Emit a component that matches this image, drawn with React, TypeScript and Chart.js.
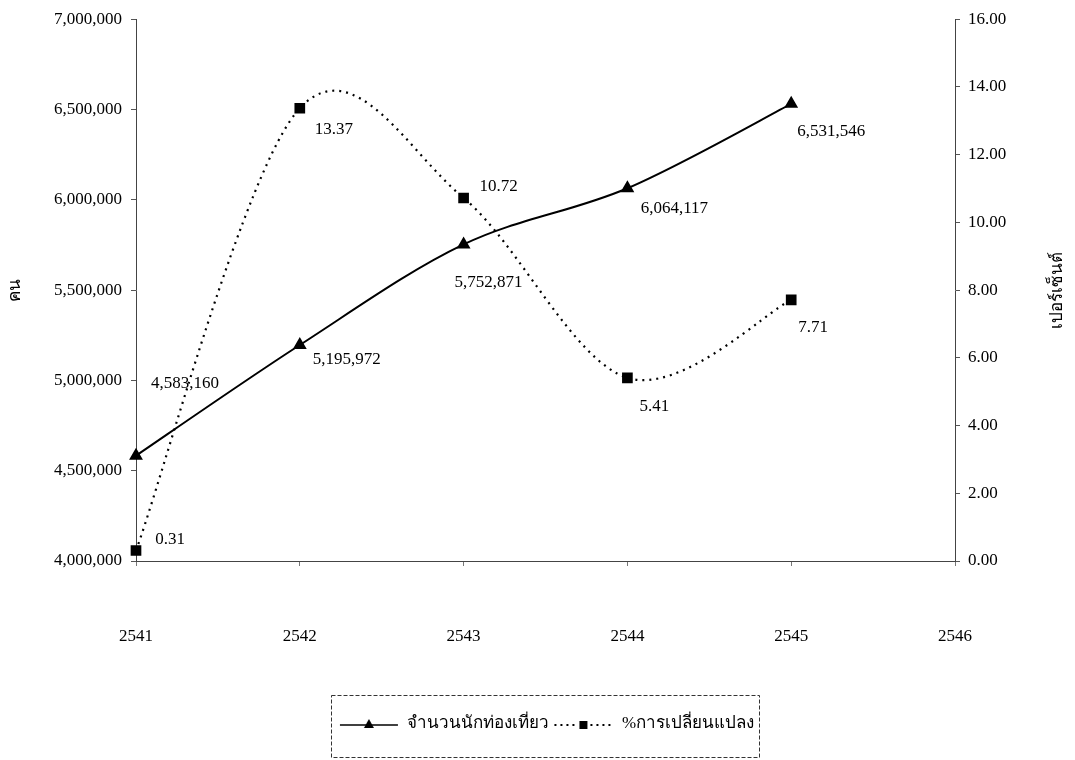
import React, { useEffect, useRef } from 'react';
import { Chart, registerables } from 'chart.js';

Chart.register(...registerables);

// ---- data ----
const years = ['2541', '2542', '2543', '2544', '2545', '2546'];
const tourists = [4583160, 5195972, 5752871, 6064117, 6531546];
const pctChange = [0.31, 13.37, 10.72, 5.41, 7.71];
const seriesNames = ['จำนวนนักท่องเที่ยว', '%การเปลี่ยนแปลง'];
const leftAxisTitle = 'คน';
const rightAxisTitle = 'เปอร์เซ็นต์';
const leftRange = [4000000, 7000000, 500000];
const rightRange = [0, 16, 2];

// label placement (pixel offsets from each point)
const touristLabelOffsets = [[49, -72], [47, 15], [25, 38], [47, 20], [40, 28]];
const pctLabelOffsets = [[34, -11], [34, 21], [35, -11], [27, 29], [22, 28]];

const FONT = "'Liberation Serif', 'Times New Roman', serif";
const FS = 17;
const SMOOTH_K = 1 / 6; // spreadsheet-style smoothing factor
const SAMPLE_W = 60;
const LEGEND_PAD = 4;
const LEGEND_TEXT_Y = 724;
const LEGEND_SHIFT_X = 9;

function makeSample(kind: 'solid' | 'dotted') {
  const c = document.createElement('canvas');
  c.width = SAMPLE_W;
  c.height = 14;
  const g = c.getContext('2d')!;
  g.fillStyle = '#000';
  g.strokeStyle = '#000';
  const mid = SAMPLE_W / 2;
  if (kind === 'solid') {
    g.lineWidth = 1.5;
    g.beginPath();
    g.moveTo(1, 8);
    g.lineTo(SAMPLE_W - 1, 8);
    g.stroke();
    g.beginPath();
    g.moveTo(mid, 2);
    g.lineTo(mid + 5, 11);
    g.lineTo(mid - 5, 11);
    g.closePath();
    g.fill();
  } else {
    for (let x = 1; x < SAMPLE_W; x += 6) {
      if (x > mid - 8 && x < mid + 6) continue;
      g.fillRect(x, 7, 2, 2);
    }
    g.fillRect(mid - 4, 4, 8, 8);
  }
  return c;
}

const fmtInt = (v: number) => Math.round(v).toLocaleString('en-US');

export default function App() {
  const ref = useRef<HTMLCanvasElement | null>(null);

  useEffect(() => {
    if (!ref.current) return;
    const samples = [makeSample('solid'), makeSample('dotted')];

    // Catmull-Rom style control points (like spreadsheet "smoothed line")
    const smoothPlugin = {
      id: 'smooth',
      beforeDatasetsDraw(chart: any) {
        chart.data.datasets.forEach((_d: any, di: number) => {
          const meta = chart.getDatasetMeta(di);
          const pts = meta.data;
          const n = pts.length;
          for (let i = 0; i < n; i++) {
            const p = pts[i];
            const prev = pts[Math.max(0, i - 1)];
            const next = pts[Math.min(n - 1, i + 1)];
            const tx = (next.x - prev.x) * SMOOTH_K;
            const ty = (next.y - prev.y) * SMOOTH_K;
            p.cp1x = p.x - tx;
            p.cp1y = p.y - ty;
            p.cp2x = p.x + tx;
            p.cp2y = p.y + ty;
          }
          if (meta.dataset) {
            meta.dataset._pointsUpdated = true;
            meta.dataset._path = undefined;
          }
        });
      },
    };

    const legendPosPlugin = {
      id: 'legendPos',
      afterLayout(chart: any) {
        const lg = chart.legend;
        if (!lg) return;
        const dy = LEGEND_TEXT_Y - (lg.top + LEGEND_PAD + FS / 2);
        lg.top += dy;
        lg.bottom += dy;
        lg.left += LEGEND_SHIFT_X;
        lg.right += LEGEND_SHIFT_X;
      },
    };

    const labelPlugin = {
      id: 'pointLabels',
      afterDatasetsDraw(chart: any) {
        const ctx = chart.ctx;
        ctx.save();
        ctx.font = `${FS}px ${FONT}`;
        ctx.fillStyle = '#000';
        ctx.textAlign = 'center';
        ctx.textBaseline = 'middle';
        const m0 = chart.getDatasetMeta(0);
        m0.data.forEach((p: any, i: number) => {
          const [dx, dy] = touristLabelOffsets[i];
          ctx.fillText(fmtInt(tourists[i]), p.x + dx, p.y + dy);
        });
        const m1 = chart.getDatasetMeta(1);
        m1.data.forEach((p: any, i: number) => {
          const [dx, dy] = pctLabelOffsets[i];
          ctx.fillText(pctChange[i].toFixed(2), p.x + dx, p.y + dy);
        });
        ctx.restore();
      },
    };

    const extrasPlugin = {
      id: 'extras',
      afterDraw(chart: any) {
        const ctx = chart.ctx;
        const ca = chart.chartArea;
        // right axis title, rotated like the left one
        ctx.save();
        ctx.font = `${FS}px ${FONT}`;
        ctx.fillStyle = '#000';
        ctx.textAlign = 'center';
        ctx.textBaseline = 'middle';
        ctx.translate(1058, (ca.top + ca.bottom) / 2);
        ctx.rotate(-Math.PI / 2);
        ctx.fillText(rightAxisTitle, 0, 0);
        ctx.restore();
        // legend frame
        const lg = chart.legend;
        if (lg && lg.legendHitBoxes && lg.legendHitBoxes.length) {
          const hb = lg.legendHitBoxes;
          let l = Infinity, r = -Infinity, t = Infinity, b = -Infinity;
          hb.forEach((h: any) => {
            l = Math.min(l, h.left);
            r = Math.max(r, h.left + h.width);
            t = Math.min(t, h.top);
            b = Math.max(b, h.top + h.height);
          });
          const cy = (t + b) / 2;
          ctx.save();
          ctx.strokeStyle = '#333';
          ctx.lineWidth = 1;
          ctx.setLineDash([4, 2]);
          const x0 = Math.round(l - 8) + 0.5;
          const y0 = Math.round(cy - 29) + 0.5;
          ctx.strokeRect(x0, y0, Math.round(r + 5) - Math.round(l - 8), 62);
          ctx.restore();
        }
      },
    };

    const chart = new Chart(ref.current, {
      type: 'line',
      data: {
        labels: years,
        datasets: [
          {
            label: seriesNames[0],
            data: tourists,
            yAxisID: 'y',
            borderColor: '#000',
            backgroundColor: '#000',
            borderWidth: 2,
            tension: 0.3,
            pointStyle: 'triangle',
            pointRadius: 6,
            pointBackgroundColor: '#000',
            pointBorderColor: '#000',
            fill: false,
          },
          {
            label: seriesNames[1],
            data: pctChange,
            yAxisID: 'y1',
            borderColor: '#000',
            backgroundColor: '#000',
            borderWidth: 2.2,
            borderDash: [2, 5],
            tension: 0.3,
            pointStyle: 'rect',
            pointRadius: 6,
            pointBackgroundColor: '#000',
            pointBorderColor: '#000',
            fill: false,
          },
        ],
      },
      options: {
        responsive: false,
        animation: false,
        layout: { padding: { top: 15, left: 0, right: 0, bottom: 30 } },
        plugins: {
          tooltip: { enabled: false },
          legend: {
            display: true,
            position: 'bottom',
            labels: {
              usePointStyle: true,
              pointStyleWidth: SAMPLE_W,
              padding: LEGEND_PAD,
              color: '#000',
              font: { family: FONT, size: FS },
              generateLabels: () =>
                seriesNames.map((t, i) => ({
                  text: t,
                  pointStyle: samples[i] as any,
                  fillStyle: '#000',
                  strokeStyle: '#000',
                  lineWidth: 0,
                  hidden: false,
                  datasetIndex: i,
                  fontColor: '#000',
                })),
            },
          },
        },
        scales: {
          x: {
            type: 'category',
            offset: false,
            grid: { drawOnChartArea: false, offset: false, tickLength: 5, color: '#777' },
            border: { display: true, color: '#444', dash: [5, 3] },
            ticks: { color: '#000', padding: 60, font: { family: FONT, size: FS }, maxRotation: 0 },
            afterFit: (s: any) => { s.height = 138; },
          },
          y: {
            type: 'linear',
            position: 'left',
            min: leftRange[0],
            max: leftRange[1],
            grid: { drawOnChartArea: false, tickLength: 5, color: '#555' },
            border: { display: true, color: '#444', dash: [5, 3] },
            ticks: {
              stepSize: leftRange[2],
              color: '#000',
              padding: 9,
              font: { family: FONT, size: FS },
              callback: (v: any) => fmtInt(Number(v)),
            },
            title: {
              display: true,
              text: leftAxisTitle,
              color: '#000',
              font: { family: FONT, size: FS },
              padding: { top: 5, bottom: 0 },
            },
            afterFit: (s: any) => { s.width = 136; },
          },
          y1: {
            type: 'linear',
            position: 'right',
            min: rightRange[0],
            max: rightRange[1],
            grid: { drawOnChartArea: false, tickLength: 5, color: '#555' },
            border: { display: true, color: '#444', dash: [5, 3] },
            ticks: {
              stepSize: rightRange[2],
              color: '#000',
              padding: 8,
              font: { family: FONT, size: FS },
              callback: (v: any) => Number(v).toFixed(2),
            },
            afterFit: (s: any) => { s.width = 120; },
          },
        },
      },
      plugins: [smoothPlugin, legendPosPlugin, labelPlugin, extrasPlugin],
    } as any);

    return () => chart.destroy();
  }, []);

  return (
    <div style={{ position: 'absolute', left: 0, top: 0, width: 1075, height: 760, background: '#fff' }}>
      <canvas ref={ref} width={1075} height={760} style={{ width: 1075, height: 760, display: 'block' }} />
    </div>
  );
}
